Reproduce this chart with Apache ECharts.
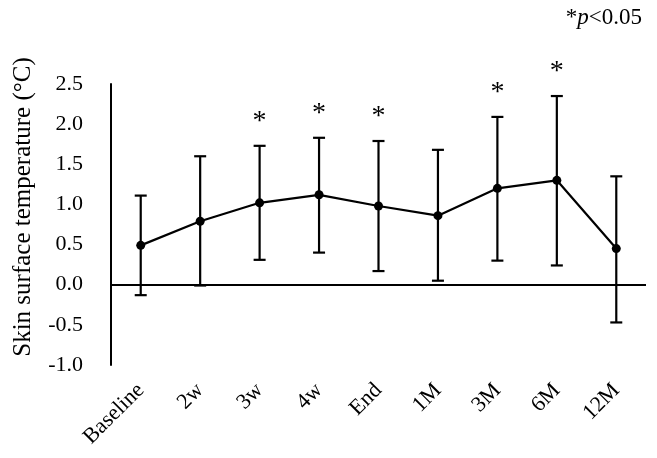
<!DOCTYPE html>
<html><head><meta charset="utf-8">
<script src="https://cdn.jsdelivr.net/npm/echarts@6/dist/echarts.min.js"></script>
<style>html,body{margin:0;padding:0;background:#fff}#c{width:657px;height:458px}</style>
</head><body><div id="c"></div>
<script>
const categories = ['Baseline','2w','3w','4w','End','1M','3M','6M','12M'];
const means = [0.49, 0.79, 1.02, 1.12, 0.98, 0.86, 1.20, 1.30, 0.45];
const upper = [1.11, 1.60, 1.73, 1.83, 1.79, 1.68, 2.09, 2.35, 1.35];
const lower = [-0.13, -0.01, 0.31, 0.40, 0.17, 0.05, 0.30, 0.24, -0.47];
const significant = [false, false, true, true, true, false, true, true, false];
const yTicks = [-1.0, -0.5, 0.0, 0.5, 1.0, 1.5, 2.0, 2.5];

const FONT = '"Liberation Serif", "Times New Roman", serif';
const chart = echarts.init(document.getElementById('c'));
const idx = categories.map((c,i)=>i);
chart.setOption({
  animation:false,
  grid:{left:111,right:11,top:84,bottom:93},
  xAxis:{type:'category',data:categories,boundaryGap:true,
    axisLine:{show:false,onZero:false},axisTick:{show:false},splitLine:{show:false},
    axisLabel:{interval:0,rotate:45,margin:22,fontFamily:FONT,fontSize:22,color:'#000'}},
  yAxis:{type:'value',min:yTicks[0],max:yTicks[yTicks.length-1],interval:0.5,
    axisLine:{show:true,onZero:false,lineStyle:{color:'#000',width:2}},axisTick:{show:false},splitLine:{show:false},
    axisLabel:{formatter:v=>v.toFixed(1),margin:28,fontFamily:FONT,fontSize:22,color:'#000'}},
  graphic:[
    {type:'text',right:15,top:6,style:{
      text:'{n|*}{i|p}{n|<0.05}',
      rich:{n:{fontFamily:FONT,fontSize:23,fill:'#000'},i:{fontFamily:FONT,fontSize:23,fontStyle:'italic',fill:'#000'}}}},
    {type:'text',x:23,y:207,rotation:Math.PI/2,style:{
      text:'Skin surface temperature (°C)',align:'center',verticalAlign:'middle',
      fontFamily:FONT,fontSize:25,fill:'#000'}}
  ],
  series:[
    {type:'line',data:means,symbol:'circle',symbolSize:9,
     lineStyle:{color:'#000',width:2.2},itemStyle:{color:'#000'},z:3,
     markLine:{silent:true,symbol:'none',label:{show:false},lineStyle:{color:'#000',width:2,type:'solid'},data:[{yAxis:0}]}},
    {type:'custom',data:idx.map(i=>[i,lower[i],upper[i],significant[i]?1:0]),z:2,
     renderItem:(params,api)=>{
       const lo=api.coord([api.value(0),api.value(1)]);
       const hi=api.coord([api.value(0),api.value(2)]);
       const w=6;
       const st={stroke:'#000',lineWidth:2.2};
       const ch=[
         {type:'line',shape:{x1:lo[0],y1:lo[1],x2:hi[0],y2:hi[1]},style:st},
         {type:'line',shape:{x1:lo[0]-w,y1:lo[1],x2:lo[0]+w,y2:lo[1]},style:st},
         {type:'line',shape:{x1:hi[0]-w,y1:hi[1],x2:hi[0]+w,y2:hi[1]},style:st}];
       if(api.value(3)===1){
         ch.push({type:'text',x:hi[0],y:hi[1]-24,style:{text:'*',align:'center',verticalAlign:'middle',
           fontFamily:FONT,fontSize:28,fill:'#000'}});
       }
       return {type:'group',children:ch};
     }}
  ]
});
</script></body></html>
